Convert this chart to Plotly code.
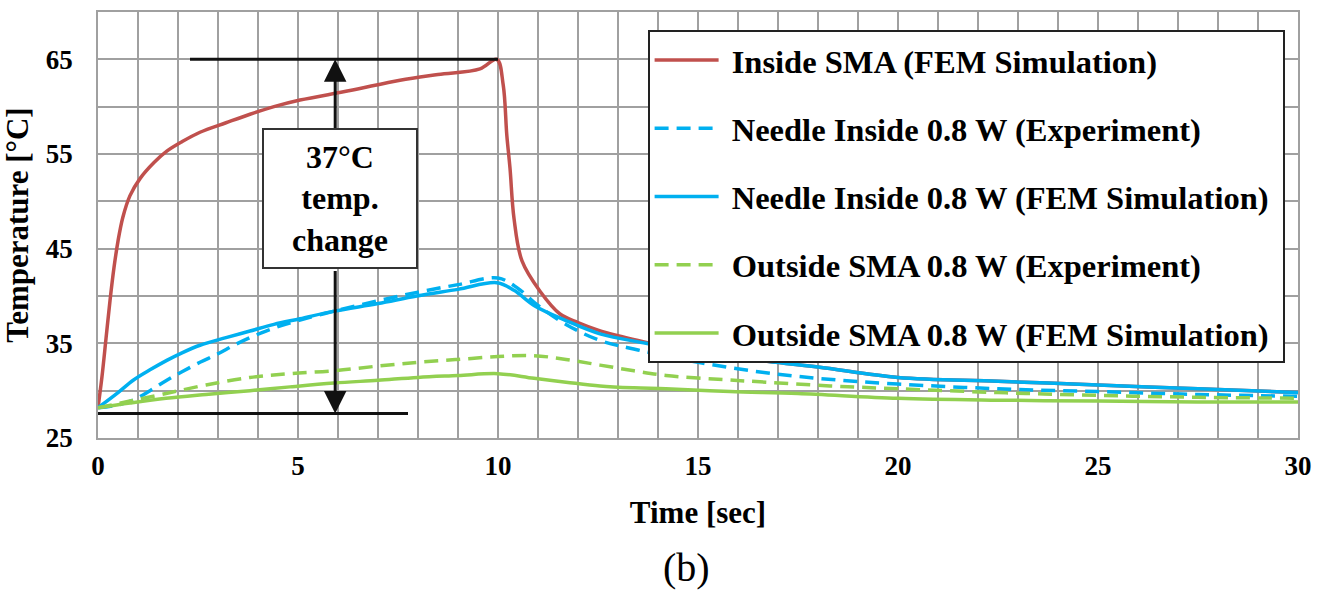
import plotly.graph_objects as go

# ---------------- data ----------------
t_inside_sma = [0, 0.1, 0.2, 0.3, 0.4, 0.5, 0.62, 0.8, 1.05, 1.4, 1.72, 2.1, 2.55, 3.2, 3.8, 4.4,
                5.05, 6.3, 7.55, 8.5, 9.55, 9.97, 10.13, 10.22, 10.3, 10.4, 10.6, 11.05, 11.55,
                12.0, 12.5, 13.0, 13.5, 15, 16.5, 18, 20, 22.5, 25, 27.5, 30]
T_inside_sma = [28.2, 31.5, 35.5, 39.5, 43.0, 45.8, 48.3, 50.6, 52.4, 54.1, 55.3, 56.3, 57.3, 58.3, 59.2, 60.0,
                60.7, 61.7, 62.8, 63.4, 64.0, 65.0, 62.3, 57.0, 53.5, 48.2, 43.7, 40.5, 38.1,
                37.2, 36.4, 35.8, 35.3, 34.0, 33.2, 32.5, 31.4, 31.0, 30.6, 30.2, 29.8]

t_needle_exp = [0, 0.5, 0.88, 1.3, 1.72, 2.1, 2.55, 3.0, 3.4, 3.8, 4.2, 4.6, 5.0, 6.0, 7.0, 8.0, 9.0, 10.0,
                10.5, 11.0, 11.7, 12.55, 13.5, 15, 16.5, 18, 20, 22.5, 25, 27.5, 30]
T_needle_exp = [28.2, 28.5, 29.0, 30.0, 31.1, 32.0, 33.0, 33.9, 34.8, 35.6, 36.3, 36.9, 37.4, 38.5, 39.5, 40.4, 41.2, 41.9,
                40.8, 39.0, 37.0, 35.3, 34.3, 33.0, 32.0, 31.3, 30.7, 30.2, 29.9, 29.6, 29.4]

t_needle_fem = [0, 0.5, 0.88, 1.3, 1.72, 2.1, 2.55, 3.2, 3.8, 4.4, 5.05, 5.9, 7.0, 7.97, 9.0, 9.97,
                10.4, 10.9, 11.7, 12.55, 13.7, 15, 16.5, 18, 20, 22.5, 25, 27.5, 30]
T_needle_fem = [28.2, 29.8, 31.1, 32.2, 33.2, 34.0, 34.8, 35.6, 36.3, 37.0, 37.6, 38.4, 39.2, 40.0, 40.7, 41.4,
                40.6, 39.0, 37.4, 36.0, 35.0, 34.0, 33.2, 32.5, 31.4, 31.0, 30.6, 30.2, 29.8]

t_outside_exp = [0, 0.8, 1.7, 2.7, 3.8, 4.8, 5.9, 7.0, 8.0, 9.0, 10.0, 10.9, 11.7, 12.55, 13.4, 14.2,
                 15.5, 16.7, 18.3, 20, 22.5, 25, 27.5, 30]
T_outside_exp = [28.2, 28.9, 29.7, 30.6, 31.4, 31.8, 32.1, 32.6, 33.0, 33.3, 33.6, 33.7, 33.3, 32.7, 32.1, 31.6,
                 31.2, 30.9, 30.5, 30.2, 29.8, 29.5, 29.3, 29.2]

t_outside_fem = [0, 0.8, 1.7, 2.7, 3.8, 4.8, 5.9, 7.0, 8.0, 9.0, 10.0, 10.9, 11.7, 12.55, 13.4, 14.2,
                 15.8, 17.5, 20, 22.5, 25, 27.5, 30]
T_outside_fem = [28.2, 28.7, 29.2, 29.6, 30.0, 30.4, 30.8, 31.1, 31.4, 31.6, 31.8, 31.3, 30.9, 30.5, 30.3, 30.2,
                 29.9, 29.7, 29.2, 29.0, 28.9, 28.8, 28.8]

series_names = ["Inside SMA (FEM Simulation)",
                "Needle Inside 0.8 W (Experiment)",
                "Needle Inside 0.8 W (FEM Simulation)",
                "Outside SMA 0.8 W (Experiment)",
                "Outside SMA 0.8 W (FEM Simulation)"]
series_t = [t_inside_sma, t_needle_exp, t_needle_fem, t_outside_exp, t_outside_fem]
series_T = [T_inside_sma, T_needle_exp, T_needle_fem, T_outside_exp, T_outside_fem]
series_colors = ["#C0504D", "#00B0F0", "#00B0F0", "#92D050", "#92D050"]
series_dash = ["solid", "14px,8px", "solid", "14px,8px", "solid"]

x_tick_labels = [0, 5, 10, 15, 20, 25, 30]
y_tick_labels = [25, 35, 45, 55, 65]

# annotation geometry (temperature change marker)
change_low, change_high = 27.6, 65
arrow_t = 5.93
box_t, box_T = 6.05, 50.25
box_top_T, box_bottom_T = 57.6, 42.8
top_line_t = [2.3, 10.0]
bottom_line_t = [0, 7.75]

GRID = "#a0a0a0"
FONT = "Liberation Serif"
NB = "\u00a0"

fig = go.Figure()
for name, t, T, c, d in zip(series_names, series_t, series_T, series_colors, series_dash):
    fig.add_trace(go.Scatter(
        x=t, y=T, mode="lines", name=NB + name + NB, legendgroup=name,
        line=dict(color=c, width=3.5, dash=d, shape="spline", smoothing=1.0),
    ))

fig.update_layout(
    width=1336, height=590,
    margin=dict(l=98, r=38, t=10, b=152),
    paper_bgcolor="white", plot_bgcolor="white",
    font=dict(family=FONT, color="black"),
    showlegend=True,
    legend=dict(
        x=0.458, y=0.957, xanchor="left", yanchor="top",
        bordercolor="#222222", borderwidth=2, bgcolor="white",
        font=dict(size=32.5, family=FONT, weight="bold", color="black"),
        itemwidth=64, tracegroupgap=23, traceorder="grouped",
    ),
    xaxis=dict(
        range=[0, 30], tick0=0, dtick=5, tickvals=x_tick_labels,
        showgrid=True, gridcolor=GRID, gridwidth=1.5,
        minor=dict(dtick=1, tick0=0, showgrid=True, gridcolor=GRID, gridwidth=1.5),
        showline=True, linecolor=GRID, linewidth=1.5, mirror=True, zeroline=False,
        ticks="", ticklabelstandoff=3,
        tickfont=dict(size=27, family=FONT, weight="bold"),
        title=dict(text="Time [sec]", font=dict(size=31, family=FONT, weight="bold"), standoff=21),
    ),
    yaxis=dict(
        range=[25, 70], tick0=25, dtick=10, tickvals=y_tick_labels,
        showgrid=True, gridcolor=GRID, gridwidth=1.5,
        minor=dict(dtick=5, tick0=25, showgrid=True, gridcolor=GRID, gridwidth=1.5),
        showline=True, linecolor=GRID, linewidth=1.5, mirror=True, zeroline=False,
        ticks="", ticklabelstandoff=18,
        tickfont=dict(size=27, family=FONT, weight="bold"),
        title=dict(text="Temperature [°C]", font=dict(size=31, family=FONT, weight="bold"), standoff=8),
    ),
)

# horizontal reference lines
fig.add_shape(type="line", xref="x", yref="y", x0=top_line_t[0], x1=top_line_t[1],
              y0=change_high, y1=change_high, line=dict(color="#111111", width=3))
fig.add_shape(type="line", xref="x", yref="y", x0=bottom_line_t[0], x1=bottom_line_t[1],
              y0=change_low, y1=change_low, line=dict(color="#111111", width=3))

# arrows
fig.add_annotation(x=arrow_t, y=change_high, ax=arrow_t, ay=box_top_T, axref="x", ayref="y",
                   xref="x", yref="y", text="", showarrow=True, arrowhead=2, arrowsize=1.5,
                   arrowwidth=3, arrowcolor="#111111", standoff=0)
fig.add_annotation(x=arrow_t, y=change_low, ax=arrow_t, ay=box_bottom_T, axref="x", ayref="y",
                   xref="x", yref="y", text="", showarrow=True, arrowhead=2, arrowsize=1.5,
                   arrowwidth=3, arrowcolor="#111111", standoff=0)

# text box
fig.add_annotation(x=box_t, y=box_T, xref="x", yref="y", text="37°C<br>temp.<br>change",
                   showarrow=False, bordercolor="#333333", borderwidth=2, bgcolor="white",
                   width=148, height=133, borderpad=2,
                   font=dict(size=32, family=FONT, weight="bold", color="black"))

# panel label
fig.add_annotation(x=0.49, y=-0.303, xref="paper", yref="paper", yanchor="middle",
                   text="(b)", showarrow=False,
                   font=dict(size=40, family=FONT, color="black"))

fig.write_html("out.html")
